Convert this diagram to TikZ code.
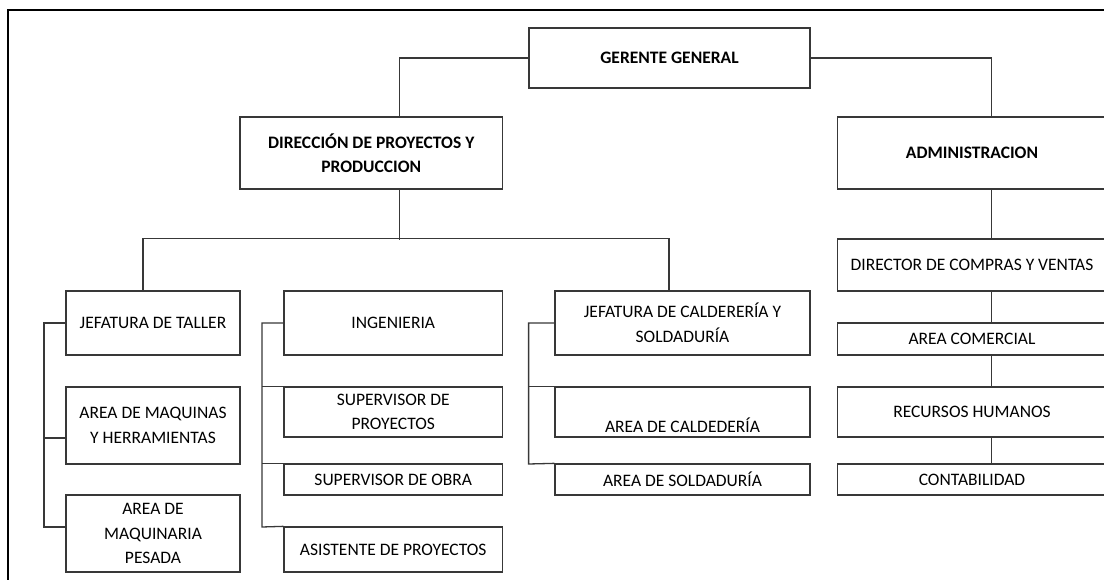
\documentclass[tikz,border=0pt]{standalone}
\usepackage{fontspec}
\setmainfont{Carlito}
\begin{document}
\begin{tikzpicture}[x=1pt,y=-1pt,
  box/.style={draw=black!78,line width=1.3pt,fill=white,inner sep=0pt,align=center,
    font=\fontsize{17.5}{24.5}\selectfont,text=black},
  conn/.style={draw=black!78,line width=1.3pt},
  frame/.style={draw=black,line width=2pt}]
\useasboundingbox (0,0) rectangle (1104,580);
\draw[frame] (7.5,580) -- (7.5,10) -- (1104,10);
% top level
\node[box,font=\bfseries\fontsize{17.5}{24.5}\selectfont,minimum width=281pt,minimum height=60pt] (gg) at (669.5,58) {GERENTE GENERAL};
\node[box,font=\bfseries\fontsize{17.5}{24.5}\selectfont,minimum width=262.5pt,minimum height=72pt] (dir) at (371.25,153) {DIRECCIÓN DE PROYECTOS Y\\PRODUCCION};
\node[box,font=\bfseries\fontsize{17.5}{24.5}\selectfont,minimum width=269pt,minimum height=72pt] (adm) at (972,153) {ADMINISTRACION};
% right column
\node[box,minimum width=269pt,minimum height=52pt] (dcv) at (972,265) {DIRECTOR DE COMPRAS Y VENTAS};
\node[box,minimum width=269pt,minimum height=32pt] (ac) at (972,339) {AREA COMERCIAL};
\node[box,minimum width=269pt,minimum height=50pt] (rh) at (972,412) {RECURSOS HUMANOS};
\node[box,minimum width=269pt,minimum height=31pt] (cont) at (972,479.5) {CONTABILIDAD};
% left column
\node[box,minimum width=174pt,minimum height=64pt] (jt) at (153,323) {JEFATURA DE TALLER};
\node[box,minimum width=174pt,minimum height=77pt] (amh) at (153,425.5) {AREA DE MAQUINAS\\Y HERRAMIENTAS};
\node[box,minimum width=174pt,minimum height=77pt] (amp) at (153,533.5) {AREA DE\\MAQUINARIA\\PESADA};
% middle column
\node[box,minimum width=218.5pt,minimum height=64pt] (ing) at (393.25,323) {INGENIERIA};
\node[box,minimum width=218.5pt,minimum height=50pt] (sp) at (393.25,412) {SUPERVISOR DE\\PROYECTOS};
\node[box,minimum width=218.5pt,minimum height=31pt] (so) at (393.25,479.5) {SUPERVISOR DE OBRA};
\node[box,minimum width=218.5pt,minimum height=45pt] (ap) at (393.25,549.5) {ASISTENTE DE PROYECTOS};
% third column
\node[box,minimum width=255pt,minimum height=64pt] (jc) at (682.5,323) {JEFATURA DE CALDERERÍA Y\\SOLDADURÍA};
\node[box,minimum width=255pt,minimum height=50pt] (acd) at (682.5,412) {\strut\\AREA DE CALDEDERÍA};
\node[box,minimum width=255pt,minimum height=31pt] (asd) at (682.5,479.5) {AREA DE SOLDADURÍA};
% bracket coordinates
\coordinate (lb) at (44,527);
\coordinate (lm) at (44,438);
\coordinate (mb) at (262,527);
\coordinate (rb) at (528.6,464);
% connectors
\draw[conn] (gg.west) -| ([xshift=28pt]dir.north);
\draw[conn] (gg.east) -| ([xshift=19.5pt]adm.north);
\draw[conn] ([xshift=28pt]dir.south) -- ++(0,50);
\draw[conn] ([xshift=-10pt]jt.north) -- ++(0,-52) -| ([xshift=-13.5pt]jc.north);
\draw[conn] ([xshift=19.5pt]adm.south) -- ([xshift=19.5pt]dcv.north);
\draw[conn] ([xshift=19.5pt]dcv.south) -- ([xshift=19.5pt]ac.north);
\draw[conn] ([xshift=19.5pt]ac.south) -- ([xshift=19.5pt]rh.north);
\draw[conn] ([xshift=19.5pt]rh.south) -- ([xshift=19.5pt]cont.north);
\draw[conn] (jt.west) -| (lb) -- (amp.west |- lb);
\draw[conn] (lm) -- (amh.west |- lm);
\draw[conn] (ing.west) -| (mb) -- (ap.north west);
\draw[conn] (sp.north west) -- (sp.north west -| mb);
\draw[conn] (so.north west) -- (so.north west -| mb);
\draw[conn] (jc.west) -| (rb) -- (asd.north west);
\draw[conn] (acd.north west) -- (acd.north west -| rb);
\end{tikzpicture}
\end{document}
